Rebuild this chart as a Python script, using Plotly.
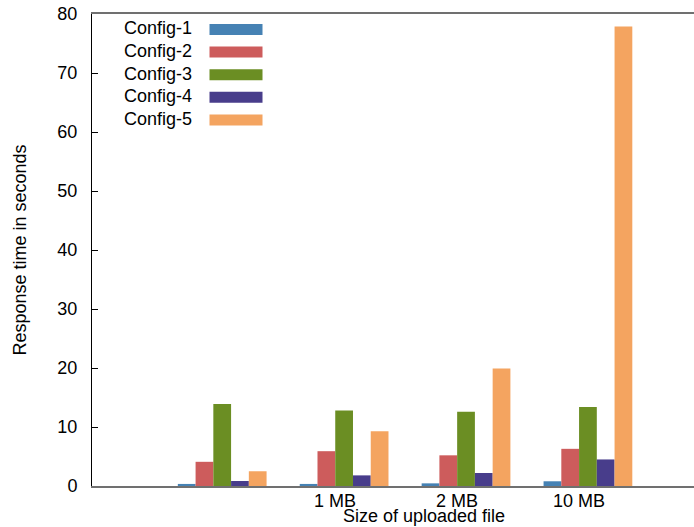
import plotly.graph_objects as go

# Upload sizes (the first group has no label on the axis)
sizes = ["", "1 MB", "2 MB", "10 MB"]
configs = ["Config-1", "Config-2", "Config-3", "Config-4", "Config-5"]

# Response time in seconds per configuration, one value per upload size
config_1 = [0.35, 0.35, 0.45, 0.8]
config_2 = [4.1, 5.9, 5.2, 6.3]
config_3 = [13.9, 12.8, 12.6, 13.4]
config_4 = [0.85, 1.8, 2.2, 4.5]
config_5 = [2.5, 9.3, 19.9, 77.9]
series = [config_1, config_2, config_3, config_4, config_5]

colors = ["#4682B4", "#CD5C5C", "#6B8E23", "#483D8B", "#F4A460"]
y_ticks = [0, 10, 20, 30, 40, 50, 60, 70, 80]

W, H = 694, 527
ML, MR, MT, MB = 92, 0, 14, 41
FONT = "Liberation Sans, Arial, sans-serif"


def px_x(px):
    return (px - ML) / (W - ML - MR)


def px_y(py):
    return (H - MB - py) / (H - MT - MB)


fig = go.Figure()
positions = list(range(len(sizes)))
for name, vals, col in zip(configs, series, colors):
    fig.add_trace(go.Bar(
        x=positions, y=vals, name=name,
        marker=dict(color=col, line=dict(width=0)),
        showlegend=False,
    ))

# Key: label on the left, colour sample on the right
shapes = []
annotations = []
row0, row_step = 29.5, 22.6
for i, (name, col) in enumerate(zip(configs, colors)):
    cy = row0 + i * row_step
    annotations.append(dict(
        x=px_x(122), y=px_y(cy - 1), xref="paper", yref="paper",
        text=name, showarrow=False, xanchor="left", yanchor="middle",
        font=dict(family=FONT, size=18, color="black"),
    ))
    shapes.append(dict(
        type="rect", xref="paper", yref="paper",
        x0=px_x(209.5), x1=px_x(262.5), y0=px_y(cy - 5.5), y1=px_y(cy + 5.5),
        fillcolor=col, line=dict(width=0),
    ))

# x-axis title
annotations.append(dict(
    x=px_x(424), y=px_y(516), xref="paper", yref="paper",
    text="Size of uploaded file", showarrow=False,
    xanchor="center", yanchor="middle",
    font=dict(family=FONT, size=18, color="black"),
))

fig.update_layout(
    width=W, height=H, autosize=False,
    margin=dict(l=ML, r=MR, t=MT, b=MB, pad=0),
    paper_bgcolor="white", plot_bgcolor="white",
    barmode="group", bargap=0.272, bargroupgap=0,
    font=dict(family=FONT, size=18, color="black"),
    shapes=shapes, annotations=annotations,
    xaxis=dict(
        range=[-1.068, 3.87],
        tickmode="array", tickvals=positions, ticktext=sizes,
        ticks="", ticklabelshift=-9, ticklabelstandoff=-3,
        showgrid=False, zeroline=False,
        showline=True, linecolor="#707070", linewidth=2, mirror=True,
        tickfont=dict(family=FONT, size=18, color="black"),
    ),
    yaxis=dict(
        range=[0, 80],
        tickmode="array", tickvals=y_ticks,
        ticks="inside", ticklen=6, tickwidth=1, tickcolor="black",
        ticklabelstandoff=10,
        showgrid=False, zeroline=False,
        showline=True, linecolor="black", linewidth=1,
        tickfont=dict(family=FONT, size=18, color="black"),
        title=dict(text="Response time in seconds", standoff=26,
                   font=dict(family=FONT, size=18, color="black")),
    ),
)

fig.write_html("out.html")
